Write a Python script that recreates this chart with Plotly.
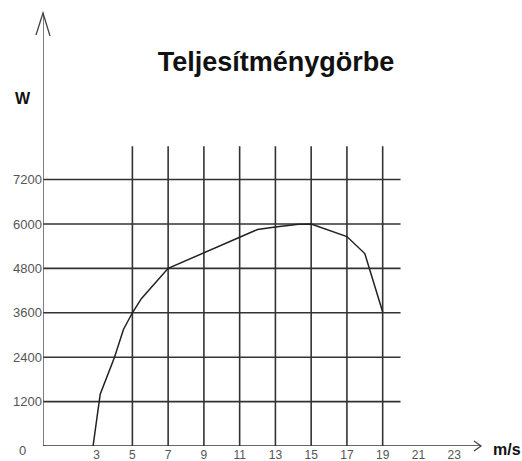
import plotly.graph_objects as go

# Data
wind_speed = [2.8, 3.2, 4.0, 4.5, 5.0, 5.5, 7.0, 9.0, 11.0, 12.0, 13.0, 14.3, 15.0, 17.0, 18.0, 19.0]
power_w = [0, 1400, 2400, 3150, 3600, 3980, 4800, 5230, 5640, 5850, 5920, 5990, 6000, 5660, 5200, 3620]

x_tick_vals = [3, 5, 7, 9, 11, 13, 15, 17, 19, 21, 23]
x_tick_text = ["3", "5", "7", "9", "11", "13", "15", "17", "19", "21", "23"]
y_tick_vals = [1200, 2400, 3600, 4800, 6000, 7200]
y_tick_text = ["1200", "2400", "3600", "4800", "6000", "7200"]
x_grid = [5, 7, 9, 11, 13, 15, 17, 19]
y_grid = [1200, 2400, 3600, 4800, 6000, 7200]

X_MAX = 24.5
Y_MAX = 11700
GRID_X_END = 20
GRID_Y_END = 8100

W, H = 522, 461
ML, MR, MT, MB = 43, 41, 13, 15
PW = W - ML - MR
PH = H - MT - MB

fig = go.Figure()
fig.add_trace(go.Scatter(
    x=wind_speed, y=power_w, mode="lines",
    line=dict(color="#222222", width=1.5),
    showlegend=False, hoverinfo="skip",
))

grid_color = "#333333"
shapes = []
for gx in x_grid:
    shapes.append(dict(type="line", xref="x", yref="y", x0=gx, x1=gx, y0=0, y1=GRID_Y_END,
                       line=dict(color=grid_color, width=1.6), layer="below"))
for gy in y_grid:
    shapes.append(dict(type="line", xref="x", yref="y", x0=0, x1=GRID_X_END, y0=gy, y1=gy,
                       line=dict(color=grid_color, width=1.6), layer="below"))

# axes lines
shapes.append(dict(type="line", xref="x", yref="y", x0=0, x1=0, y0=0, y1=Y_MAX,
                   line=dict(color="#555555", width=1.5)))
shapes.append(dict(type="line", xref="x", yref="y", x0=0, x1=X_MAX, y0=0, y1=0,
                   line=dict(color="#333333", width=1.6)))

# arrow heads (pixel offsets converted to paper units)
def px(dx):
    return dx / PW

def py(dy):
    return dy / PH

shapes.append(dict(type="path", xref="paper", yref="paper",
                   path=f"M {px(-7)},{1 - py(22)} L 0,1 L {px(7)},{1 - py(23)}",
                   line=dict(color="#444444", width=1.3)))
shapes.append(dict(type="path", xref="paper", yref="paper",
                   path=f"M {1 - px(7)},{py(5)} L 1,0 L {1 - px(7)},{py(-5)}",
                   line=dict(color="#444444", width=1.3)))

annotations = [
    dict(text="<b>W</b>", x=23, y=98, xref="paper", yref="paper", showarrow=False,
         xanchor="center", yanchor="middle",
         font=dict(family="Liberation Sans", size=16, color="#111111")),
    dict(text="<b>m/s</b>", x=507, y=449, xref="paper", yref="paper", showarrow=False,
         xanchor="center", yanchor="middle",
         font=dict(family="Liberation Sans", size=16, color="#111111")),
    dict(text="0", x=22, y=450, xref="paper", yref="paper", showarrow=False,
         xanchor="center", yanchor="middle",
         font=dict(family="Liberation Sans", size=13, color="#555555")),
]
# convert pixel positions of annotations to paper coords
for a in annotations:
    a["x"] = (a["x"] - ML) / PW
    a["y"] = 1 - (a["y"] - MT) / PH

fig.update_layout(
    width=W, height=H,
    margin=dict(l=ML, r=MR, t=MT, b=MB, autoexpand=False),
    paper_bgcolor="white", plot_bgcolor="white",
    title=dict(text="<b>Teljesítménygörbe</b>", x=(276 - ML) / PW, xref="paper",
               xanchor="center", y=1 - 62 / H, yanchor="middle", yref="container",
               font=dict(family="Liberation Sans", size=27, color="#111111")),
    xaxis=dict(range=[0, X_MAX], showgrid=False, zeroline=False, showline=False,
               tickmode="array", tickvals=x_tick_vals, ticktext=x_tick_text,
               ticks="", tickfont=dict(family="Liberation Sans", size=12, color="#555555"),
               ticklabelstandoff=0, automargin=False, fixedrange=True),
    yaxis=dict(range=[0, Y_MAX], showgrid=False, zeroline=False, showline=False,
               tickmode="array", tickvals=y_tick_vals, ticktext=y_tick_text,
               ticks="", tickfont=dict(family="Liberation Sans", size=13, color="#555555"),
               ticklabelstandoff=0, automargin=False, fixedrange=True),
    shapes=shapes, annotations=annotations,
)

fig.write_html("out.html", config={"displayModeBar": False},
               post_script="document.body.style.margin='0';document.body.style.overflow='hidden';")
